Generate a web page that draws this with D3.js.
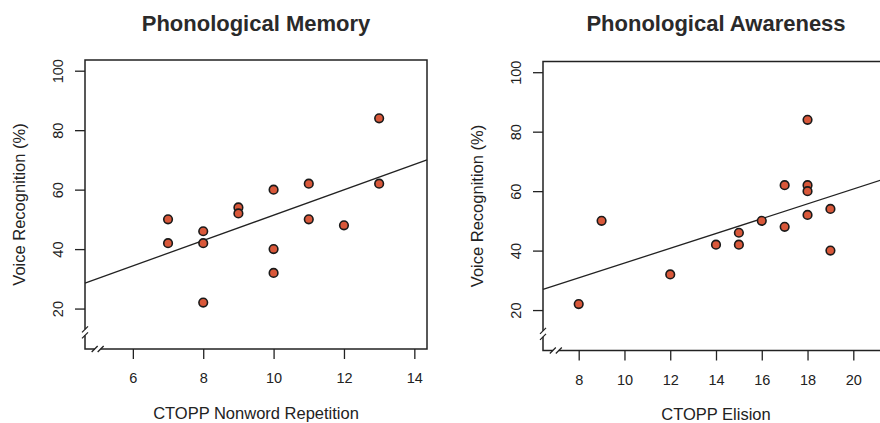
<!DOCTYPE html>
<html>
<head>
<meta charset="utf-8">
<script src="https://cdn.jsdelivr.net/npm/d3@7"></script>
<style>
  body { margin: 0; background: #fff; }
  svg { display: block; }
</style>
</head>
<body>
<div id="chart"></div>
<script>
// values
const memoryScore = [7, 7, 8, 8, 8, 9, 9, 10, 10, 10, 11, 11, 12, 13, 13]
const memoryVoice = [50, 42, 46, 42, 22, 54, 52, 60, 40, 32, 62, 50, 48, 84, 62]
const elisionScore = [8, 9, 12, 14, 15, 15, 16, 17, 17, 18, 18, 18, 18, 19, 19]
const elisionVoice = [22, 50, 32, 42, 46, 42, 50, 62, 48, 84, 62, 60, 52, 54, 40]

// fitted line [intercept, slope], as drawn
const memoryFit = [8.8, 4.26]
const elisionFit = [10.9, 2.49]

const memoryXTicks = [6, 8, 10, 12, 14]
const elisionXTicks = [8, 10, 12, 14, 16, 18, 20]
const yTicks = [20, 40, 60, 80, 100]

const font = "'Liberation Sans', Arial, Helvetica, sans-serif"
const ink = "#222"

const svg = d3.select("#chart").append("svg")
  .attr("width", 880)
  .attr("height", 423)

const panels = [
  {
    title: "Phonological Memory", xLabel: "CTOPP Nonword Repetition",
    xs: memoryScore, ys: memoryVoice, fit: memoryFit, xTicks: memoryXTicks,
    xDomain: [4.64, 14.36], xRange: [85, 427], yRange: [349, 60],
    xBreak: 5, yBreak: 12, titleY: 31, xLabelY: 418.5
  },
  {
    title: "Phonological Awareness", xLabel: "CTOPP Elision",
    xs: elisionScore, ys: elisionVoice, fit: elisionFit, xTicks: elisionXTicks,
    xDomain: [6.44, 21.56], xRange: [543, 889], yRange: [350.5, 61.5],
    xBreak: 7, yBreak: 12, titleY: 31, xLabelY: 420
  }
]

function drawPanel(p) {
  const g = svg.append("g")

  const x = d3.scaleLinear().domain(p.xDomain).range(p.xRange)
  const y = d3.scaleLinear().domain([6.4, 103.6]).range(p.yRange)

  const [x0, x1] = p.xRange
  const [yb, yt] = p.yRange

  // plot box
  g.append("rect")
    .attr("x", x0).attr("y", yt)
    .attr("width", x1 - x0).attr("height", yb - yt)
    .attr("fill", "none")
    .attr("stroke", ink)
    .attr("stroke-width", 1.5)

  // x axis
  const xAxis = g.append("g")
    .attr("transform", `translate(0,${yb})`)
    .call(d3.axisBottom(x).tickValues(p.xTicks).tickSize(10).tickSizeOuter(0))
  xAxis.select(".domain").remove()
  xAxis.selectAll("line").attr("stroke", ink).attr("stroke-width", 1.3)
  xAxis.selectAll("text")
    .attr("y", 34).attr("dy", 0)
    .attr("fill", ink)
    .style("font-family", font)
    .style("font-size", "14.5px")

  // y axis, labels turned like the original
  const yAxis = g.append("g")
    .attr("transform", `translate(${x0},0)`)
    .call(d3.axisLeft(y).tickValues(yTicks).tickSize(10).tickSizeOuter(0))
  yAxis.select(".domain").remove()
  yAxis.selectAll("line").attr("stroke", ink).attr("stroke-width", 1.3)
  yAxis.selectAll("text")
    .attr("transform", "rotate(-90)")
    .attr("x", 0).attr("y", -22).attr("dy", 0)
    .attr("text-anchor", "middle")
    .attr("fill", ink)
    .style("font-family", font)
    .style("font-size", "14.5px")

  // axis breaks
  const bx = x(p.xBreak)
  g.append("rect").attr("x", bx - 3).attr("y", yb - 3).attr("width", 6).attr("height", 6).attr("fill", "#fff")
  for (const off of [-3, 3]) {
    g.append("line")
      .attr("x1", bx + off - 3).attr("y1", yb + 3)
      .attr("x2", bx + off + 3).attr("y2", yb - 3)
      .attr("stroke", ink).attr("stroke-width", 1.3)
  }
  const by = y(p.yBreak)
  g.append("rect").attr("x", x0 - 3).attr("y", by - 3).attr("width", 6).attr("height", 6).attr("fill", "#fff")
  for (const off of [-3, 3]) {
    g.append("line")
      .attr("x1", x0 - 3).attr("y1", by + off + 3)
      .attr("x2", x0 + 3).attr("y2", by + off - 3)
      .attr("stroke", ink).attr("stroke-width", 1.3)
  }

  // fitted line across the plot region
  const line = d3.line()
    .x(d => x(d))
    .y(d => y(p.fit[0] + p.fit[1] * d))
  g.append("path")
    .datum(p.xDomain)
    .attr("d", line)
    .attr("fill", "none")
    .attr("stroke", ink)
    .attr("stroke-width", 1.3)

  // points
  g.append("g")
    .selectAll("circle")
    .data(p.xs.map((d, i) => [d, p.ys[i]]))
    .join("circle")
      .attr("cx", d => x(d[0]))
      .attr("cy", d => y(d[1]))
      .attr("r", 4.3)
      .attr("fill", "#d9583a")
      .attr("stroke", "#1a1a1a")
      .attr("stroke-width", 1.6)

  // titles
  const cx = (x0 + Math.min(x1, 889)) / 2
  g.append("text")
    .attr("x", cx).attr("y", p.titleY)
    .attr("text-anchor", "middle")
    .attr("fill", "#2a2a2a")
    .style("font-family", font)
    .style("font-weight", "bold")
    .style("font-size", "22px")
    .text(p.title)

  g.append("text")
    .attr("x", cx).attr("y", p.xLabelY)
    .attr("text-anchor", "middle")
    .attr("fill", ink)
    .style("font-family", font)
    .style("font-size", "16.5px")
    .text(p.xLabel)

  g.append("text")
    .attr("transform", `translate(${x0 - 60},${(yb + yt) / 2}) rotate(-90)`)
    .attr("text-anchor", "middle")
    .attr("fill", ink)
    .style("font-family", font)
    .style("font-size", "16.5px")
    .text("Voice Recognition (%)")
}

panels.forEach(drawPanel)
</script>
</body>
</html>
